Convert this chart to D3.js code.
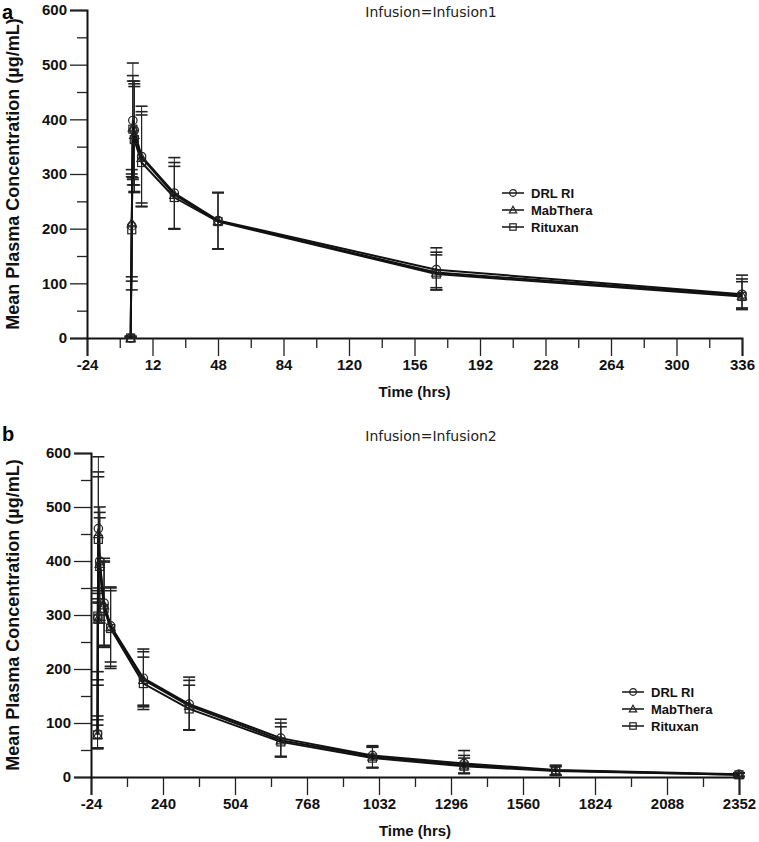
<!DOCTYPE html>
<html><head><meta charset="utf-8">
<script src="https://cdn.jsdelivr.net/npm/d3@7"></script>
<style>
body{margin:0;background:#fff;}
svg text{font-family:"Liberation Sans",Arial,sans-serif;}
</style></head>
<body><svg id="c" width="759" height="842"></svg>
<script>
// ---------- DATA ----------
const seriesNames = ["DRL RI", "MabThera", "Rituxan"];
const markerTypes = ["circle", "triangle", "square"];

// Panel a (Infusion1)
const timesA = [0, 0.6, 1.2, 2, 6, 24, 48, 168, 336];
const drlA   = [0, 205, 398, 380, 332, 265, 215, 125, 80];
const mabA   = [0, 210, 385, 372, 330, 262, 214, 120, 78];
const ritA   = [0, 198, 382, 363, 321, 257, 213, 117, 76];
const drlAUp = [3, 300, 503, 470, 424, 330, 266, 165, 115];
const mabAUp = [3, 308, 480, 465, 414, 321, 266, 157, 108];
const ritAUp = [3, 295, 470, 460, 408, 314, 266, 152, 103];
const drlALo = [0, 112, 293, 280, 247, 200, 163, 92, 55];
const mabALo = [0, 104, 290, 268, 241, 200, 163, 88, 53];
const ritALo = [0, 88, 280, 266, 240, 199, 163, 88, 52];
const xTicksA = [-24, 12, 48, 84, 120, 156, 192, 228, 264, 300, 336];

// Panel b (Infusion2)
const timesB = [0, 1, 3, 8, 24, 48, 168, 336, 672, 1008, 1344, 1680, 2352];
const drlB   = [80, 295, 460, 400, 322, 280, 183, 135, 72, 40, 25, 13, 5];
const mabB   = [78, 292, 450, 395, 318, 278, 180, 132, 68, 38, 22, 12, 4];
const ritB   = [78, 298, 440, 390, 312, 275, 173, 126, 65, 35, 20, 11, 4];
const drlBUp = [113, 345, 593, 500, 405, 352, 237, 185, 107, 58, 49, 22, 8];
const mabBUp = [106, 330, 565, 490, 400, 350, 232, 179, 100, 56, 40, 20, 7];
const ritBUp = [96, 340, 556, 480, 398, 345, 222, 170, 93, 55, 35, 19, 7];
const drlBLo = [54, 195, 350, 300, 244, 213, 133, 87, 38, 18, 7, 4, 1];
const mabBLo = [54, 180, 324, 290, 241, 205, 130, 87, 38, 17, 7, 3, 1];
const ritBLo = [52, 170, 322, 285, 240, 201, 125, 87, 37, 17, 6, 3, 1];
const xTicksB = [-24, 240, 504, 768, 1032, 1296, 1560, 1824, 2088, 2352];

const yTicks = [0, 100, 200, 300, 400, 500, 600];

// ---------- DRAW ----------
const svg = d3.select("#c");

function drawPanel(cfg) {
  const g = svg.append("g");
  const x = d3.scaleLinear().domain(cfg.xDomain).range(cfg.xRange);
  const y = d3.scaleLinear().domain([0, 600]).range(cfg.yRange);

  // minor ticks
  const step = cfg.xTicks[1] - cfg.xTicks[0];
  const minorX = [];
  for (let i = 0; i < cfg.xTicks.length - 1; i++) minorX.push(cfg.xTicks[i] + step / 2);
  const minorY = [50, 150, 250, 350, 450, 550];

  g.append("g").attr("transform", `translate(0,${cfg.yRange[0]})`)
    .call(d3.axisBottom(x).tickValues(cfg.xTicks).tickSize(18).tickPadding(3).tickFormat(d => String(d)));
  g.append("g").attr("transform", `translate(0,${cfg.yRange[0]})`)
    .call(d3.axisBottom(x).tickValues(minorX).tickSize(10).tickFormat(""))
    .call(a => a.select(".domain").remove());
  g.append("g").attr("transform", `translate(${cfg.xRange[0]},0)`)
    .call(d3.axisLeft(y).tickValues(yTicks).tickSize(17).tickPadding(3).tickFormat(d => String(d)));
  g.append("g").attr("transform", `translate(${cfg.xRange[0]},0)`)
    .call(d3.axisLeft(y).tickValues(minorY).tickSize(10).tickFormat(""))
    .call(a => a.select(".domain").remove());

  g.selectAll(".domain").attr("stroke", "#111").attr("stroke-width", 2);
  g.selectAll(".tick line").attr("stroke", "#222").attr("stroke-width", 1.3);
  g.selectAll(".tick text").attr("fill", "#111").attr("font-size", 15).attr("font-weight", "bold")
    .style("font-family", "'Liberation Sans', Arial, sans-serif");

  // error bars
  const eb = g.append("g");
  cfg.series.forEach((s) => {
    s.vals.forEach((v, i) => {
      const xx = x(cfg.times[i]);
      eb.append("line").attr("x1", xx).attr("x2", xx).attr("y1", y(s.up[i])).attr("y2", y(s.lo[i]))
        .attr("stroke", "#222").attr("stroke-width", 1);
      [s.up[i], s.lo[i]].forEach(c => {
        eb.append("line").attr("x1", xx - 6).attr("x2", xx + 6).attr("y1", y(c)).attr("y2", y(c))
          .attr("stroke", "#222").attr("stroke-width", 1.6);
      });
    });
  });

  // lines
  const line = d3.line().x((d) => x(d[0])).y((d) => y(d[1]));
  cfg.series.forEach((s) => {
    g.append("path").datum(cfg.times.map((t, i) => [t, s.vals[i]]))
      .attr("d", line).attr("fill", "none").attr("stroke", "#111").attr("stroke-width", 2);
  });

  // markers
  cfg.series.forEach((s, k) => {
    s.vals.forEach((v, i) => drawMarker(g, markerTypes[k], x(cfg.times[i]), y(v)));
  });

  // titles
  svg.append("text").attr("x", cfg.titleX).attr("y", cfg.titleY).attr("text-anchor", "middle")
    .style("font-family", "'DejaVu Sans', sans-serif").attr("font-size", 14).attr("fill", "#222")
    .text(cfg.title);
  svg.append("text").attr("x", (cfg.xRange[0] + cfg.xRange[1]) / 2).attr("y", cfg.yRange[0] + 59)
    .attr("text-anchor", "middle").attr("font-size", 15).attr("font-weight", "bold").attr("fill", "#111")
    .text("Time (hrs)");
  svg.append("text").attr("transform", `translate(19,${(cfg.yRange[0] + cfg.yRange[1]) / 2}) rotate(-90)`)
    .attr("text-anchor", "middle").attr("font-size", 18).attr("font-weight", "bold").attr("fill", "#111")
    .text("Mean Plasma Concentration (µg/mL)");
  svg.append("text").attr("x", 2).attr("y", cfg.letterY).attr("font-size", 20).attr("font-weight", "bold")
    .attr("fill", "#000").text(cfg.letter);

  // legend
  const lg = svg.append("g").attr("transform", `translate(${cfg.legendX},${cfg.legendY})`);
  seriesNames.forEach((n, k) => {
    const yy = k * 17;
    lg.append("line").attr("x1", 0).attr("x2", 22).attr("y1", yy).attr("y2", yy)
      .attr("stroke", "#111").attr("stroke-width", 1.5);
    drawMarker(lg, markerTypes[k], 11, yy, 0.8);
    lg.append("text").attr("x", 29).attr("y", yy + 5).attr("font-size", 13).attr("font-weight", "bold")
      .attr("fill", "#111").text(n);
  });
}

function drawMarker(g, type, cx, cy, sc = 1) {
  const common = (el) => el.attr("fill", "none").attr("stroke", "#222").attr("stroke-width", 1.2);
  if (type === "circle") {
    common(g.append("circle").attr("cx", cx).attr("cy", cy).attr("r", 4.2 * sc));
  } else if (type === "triangle") {
    const s = 4.6 * sc;
    common(g.append("path").attr("d", `M${cx},${cy - s}L${cx + s},${cy + s * 0.8}L${cx - s},${cy + s * 0.8}Z`));
  } else {
    const s = 4 * sc;
    common(g.append("rect").attr("x", cx - s).attr("y", cy - s).attr("width", 2 * s).attr("height", 2 * s));
  }
}

drawPanel({
  times: timesA, xDomain: [-24, 336], xRange: [87, 742], yRange: [338, 10], xTicks: xTicksA,
  series: [
    { vals: drlA, up: drlAUp, lo: drlALo },
    { vals: mabA, up: mabAUp, lo: mabALo },
    { vals: ritA, up: ritAUp, lo: ritALo }],
  title: "Infusion=Infusion1", titleX: 431, titleY: 17, letter: "a", letterY: 19,
  legendX: 502, legendY: 193
});
drawPanel({
  times: timesB, xDomain: [-24, 2352], xRange: [91, 739], yRange: [777, 453], xTicks: xTicksB,
  series: [
    { vals: drlB, up: drlBUp, lo: drlBLo },
    { vals: mabB, up: mabBUp, lo: mabBLo },
    { vals: ritB, up: ritBUp, lo: ritBLo }],
  title: "Infusion=Infusion2", titleX: 431, titleY: 441, letter: "b", letterY: 441,
  legendX: 622, legendY: 692
});
</script></body></html>
